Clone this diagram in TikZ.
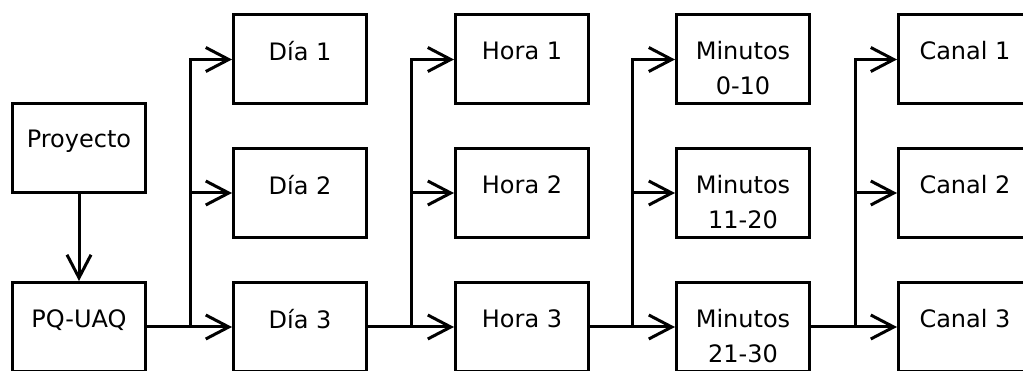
\documentclass[tikz,border=0pt]{standalone}
\usepackage{fontspec}
\setmainfont{DejaVu Sans}
\usetikzlibrary{arrows.meta,positioning}
\begin{document}
\begin{tikzpicture}[x=1pt,y=-1pt,font=\fontsize{24}{35}\selectfont]
      \tikzstyle{boxnode}=[draw, line width=3pt, minimum width=133pt, minimum height=89pt, inner sep=0pt]
      \tikzstyle{textnode}=[align=center, inner sep=0pt]
      \tikzstyle{link}=[draw, line width=3pt, -{Straight Barb[length=23pt,width=24pt]}]
      \useasboundingbox (0,0) rectangle (1023,371);
      \node[boxnode] (proy) at (79,148) {};
      \node[boxnode] (pq) at (79,327) {};
      \node[boxnode] (dia1) at (300,59.5) {};
      \node[boxnode] (dia2) at (300,193) {};
      \node[boxnode] (dia3) at (300,327) {};
      \node[boxnode] (hora1) at (522,59.5) {};
      \node[boxnode] (hora2) at (522,193) {};
      \node[boxnode] (hora3) at (522,327) {};
      \node[boxnode] (min1) at (743,59.5) {};
      \node[boxnode] (min2) at (743,193) {};
      \node[boxnode] (min3) at (743,327) {};
      \node[boxnode] (can1) at (965,59.5) {};
      \node[boxnode] (can2) at (965,193) {};
      \node[boxnode] (can3) at (965,327) {};
      \node[textnode, below=28pt of proy.north] (proyt) {Proyecto};
      \node[textnode, below=28pt of pq.north] (pqt) {PQ-UAQ};
      \node[textnode, below=28pt of dia1.north] (dia1t) {Día 1};
      \node[textnode, below=28pt of dia2.north] (dia2t) {Día 2};
      \node[textnode, below=28pt of dia3.north] (dia3t) {Día 3};
      \node[textnode, below=28pt of hora1.north] (hora1t) {Hora 1};
      \node[textnode, below=28pt of hora2.north] (hora2t) {Hora 2};
      \node[textnode, below=28pt of hora3.north] (hora3t) {Hora 3};
      \node[textnode, below=28pt of min1.north] (min1t) {Minutos\\0-10};
      \node[textnode, below=28pt of min2.north] (min2t) {Minutos\\11-20};
      \node[textnode, below=28pt of min3.north] (min3t) {Minutos\\21-30};
      \node[textnode, below=28pt of can1.north] (can1t) {Canal 1};
      \node[textnode, below=28pt of can2.north] (can2t) {Canal 2};
      \node[textnode, below=28pt of can3.north] (can3t) {Canal 3};
      \draw[link] (proy) -- (pq);
      \coordinate[left=42pt of dia3.west] (bdia);
      \coordinate[left=43pt of hora3.west] (bhora);
      \coordinate[left=43pt of min3.west] (bmin);
      \coordinate[left=42pt of can3.west] (bcan);
      \draw[link] (pq) -- (dia3);
      \draw[link] (bdia) |- (dia1);
      \draw[link] (bdia) |- (dia2);
      \draw[link] (dia3) -- (hora3);
      \draw[link] (bhora) |- (hora1);
      \draw[link] (bhora) |- (hora2);
      \draw[link] (hora3) -- (min3);
      \draw[link] (bmin) |- (min1);
      \draw[link] (bmin) |- (min2);
      \draw[link] (min3) -- (can3);
      \draw[link] (bcan) |- (can1);
      \draw[link] (bcan) |- (can2);
\end{tikzpicture}
\end{document}
